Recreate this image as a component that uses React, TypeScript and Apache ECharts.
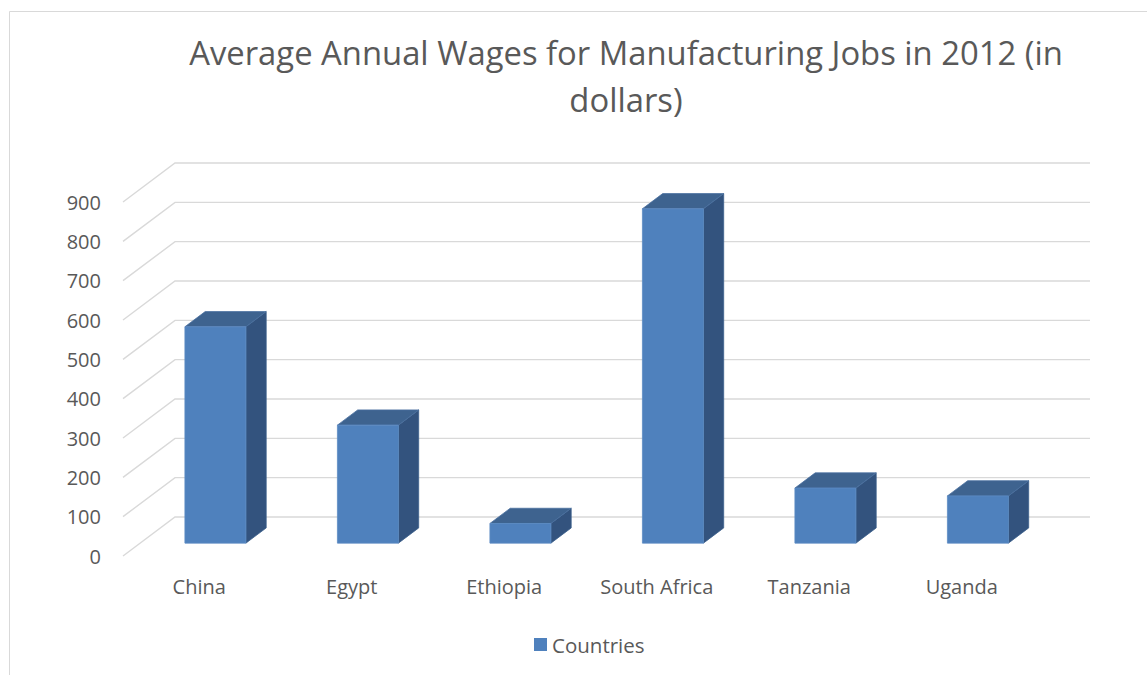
import React, { useEffect, useRef } from "react";
import * as echarts from "echarts";

const categories = ["China", "Egypt", "Ethiopia", "South Africa", "Tanzania", "Uganda"];
const wages = [550, 300, 50, 850, 140, 120];
const yTicks = [0, 100, 200, 300, 400, 500, 600, 700, 800, 900];
const seriesName = "Countries";
const titleLine1 = "Average Annual Wages for Manufacturing Jobs in 2012 (in";
const titleLine2 = "dollars)";

const DX = 52;
const DY = 39;
const A = 0.33;
const B = 0.72;
const FONT = "'Open Sans', sans-serif";
const TEXT = "#595959";

export default function App() {
  const ref = useRef<HTMLDivElement>(null);
  useEffect(() => {
    document.body.style.margin = "0";
    const chart = echarts.init(ref.current!, null, { renderer: "svg" });
    const option: any = {
      animation: false,
      backgroundColor: "#ffffff",
      textStyle: { fontFamily: FONT },
      grid: { left: 123, right: 109, top: 202, bottom: 119, containLabel: false },
      xAxis: {
        type: "category",
        data: categories,
        axisLine: { show: false },
        axisTick: { show: false },
        splitLine: { show: false },
        axisLabel: { color: TEXT, fontSize: 20, fontFamily: FONT, margin: 20 },
      },
      yAxis: {
        type: "value",
        min: 0,
        max: 900,
        interval: 100,
        axisLine: { show: false },
        axisTick: { show: false },
        splitLine: { show: false },
        axisLabel: { color: TEXT, fontSize: 20, fontFamily: FONT, margin: 22 },
      },
      legend: {
        data: [{ name: seriesName, icon: "rect" }],
        left: 534,
        top: 634,
        padding: 0,
        itemWidth: 13,
        itemHeight: 13,
        textStyle: { color: TEXT, fontSize: 20.5, fontFamily: FONT },
      },
      graphic: [
        {
          type: "rect",
          shape: { x: 9.5, y: 11.5, width: 1400, height: 1000 },
          style: { fill: "none", stroke: "#d9d9d9", lineWidth: 1 },
          silent: true,
        },
        {
          type: "text",
          x: 626,
          y: 52,
          style: {
            text: titleLine1,
            fill: TEXT,
            fontSize: 32.8,
            fontFamily: FONT,
            textAlign: "center",
            textVerticalAlign: "middle",
          },
        },
        {
          type: "text",
          x: 626,
          y: 99,
          style: {
            text: titleLine2,
            fill: TEXT,
            fontSize: 32.8,
            fontFamily: FONT,
            textAlign: "center",
            textVerticalAlign: "middle",
          },
        },
      ],
      series: [
        {
          type: "custom",
          name: "grid",
          clip: false,
          silent: true,
          z: 1,
          data: yTicks.map((t) => [0, t]),
          renderItem: (params: any, api: any) => {
            const v = api.value(1);
            const y = api.coord([0, v])[1];
            const cs = params.coordSys;
            const x0 = cs.x;
            const x1 = cs.x + cs.width;
            return {
              type: "polyline",
              shape: { points: [[x0, y], [x0 + DX, y - DY], [x1 + DX, y - DY]] },
              style: { stroke: "#d9d9d9", lineWidth: 1.4, fill: "none" },
            };
          },
        },
        {
          type: "custom",
          name: seriesName,
          clip: false,
          z: 2,
          itemStyle: { color: "#4F81BD" },
          encode: { x: 0, y: 1 },
          data: wages.map((v, i) => [i, v]),
          renderItem: (params: any, api: any) => {
            const i = api.value(0);
            const v = api.value(1);
            const base = api.coord([i, 0]);
            const top = api.coord([i, v]);
            const band = api.size([1, 0])[0];
            const w = band * 0.4;
            const fx = base[0] + DX * A - w / 2 - 1;
            const yb = base[1] - DY * A;
            const yt = top[1] - DY * A;
            const ox = DX * (B - A);
            const oy = DY * (B - A);
            const edge = "#5d8cc4";
            return {
              type: "group",
              children: [
                {
                  type: "polygon",
                  shape: { points: [[fx + w, yt], [fx + w + ox, yt - oy], [fx + w + ox, yb - oy], [fx + w, yb]] },
                  style: { fill: "#33537E", stroke: "#3b5f8c", lineWidth: 0.8 },
                },
                {
                  type: "polygon",
                  shape: { points: [[fx, yt], [fx + ox, yt - oy], [fx + w + ox, yt - oy], [fx + w, yt]] },
                  style: { fill: "#3E638F", stroke: "#4a70a0", lineWidth: 0.8 },
                },
                {
                  type: "rect",
                  shape: { x: fx, y: yt, width: w, height: yb - yt },
                  style: { fill: "#4F81BD", stroke: edge, lineWidth: 0.8 },
                },
              ],
            };
          },
        },
      ],
    };
    chart.setOption(option);
    return () => chart.dispose();
  }, []);
  return <div ref={ref} style={{ width: 1147, height: 675 }} />;
}
